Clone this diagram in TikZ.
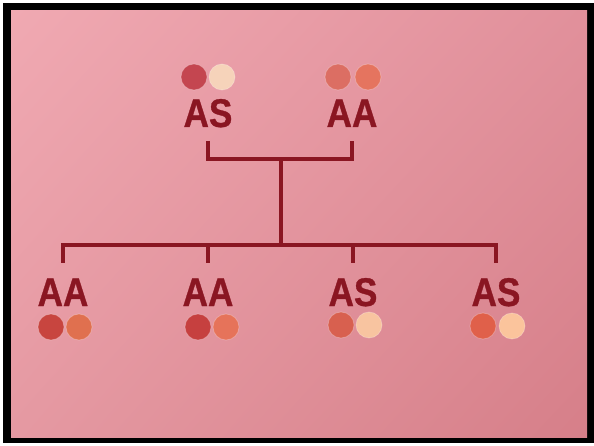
\documentclass[tikz,border=0pt]{standalone}
\usepackage{fontspec}
\usetikzlibrary{shadings}
\newfontfamily\lblfont[FakeStretch=0.88, FakeBold=0.8]{Liberation Sans}
\definecolor{ink}{HTML}{8A1622}
\definecolor{bgTL}{HTML}{F0A9B2}
\definecolor{bgTR}{HTML}{E1909B}
\definecolor{bgBL}{HTML}{E599A2}
\definecolor{bgBR}{HTML}{D67F89}
% blood-cell swatches
\definecolor{sDarkA}{HTML}{C44650}
\definecolor{sPaleA}{HTML}{F6D3BA}
\definecolor{sCoralA}{HTML}{DC6E63}
\definecolor{sCoralB}{HTML}{E5745F}
\definecolor{sDarkB}{HTML}{C8453F}
\definecolor{sCoralC}{HTML}{E0704F}
\definecolor{sDarkC}{HTML}{C6403F}
\definecolor{sCoralD}{HTML}{E6735A}
\definecolor{sMidA}{HTML}{D8604F}
\definecolor{sPaleB}{HTML}{F8C4A0}
\definecolor{sMidB}{HTML}{E0604A}
\definecolor{sPaleC}{HTML}{FBC49C}
\tikzset{
  geno/.style={inner sep=0pt, outer xsep=0pt, outer ysep=14pt,
    text height=29pt, text depth=0pt, text=ink,
    font=\lblfont\bfseries\fontsize{40}{40}\selectfont},
  cell/.style={circle, minimum size=26pt, inner sep=0pt, fill=#1,
    draw=white, draw opacity=0.25, line width=0.8pt},
  link/.style={draw=ink, line width=3.2pt}
}
\begin{document}
\begin{tikzpicture}[x=1pt, y=-1pt]
  \useasboundingbox (0,0) rectangle (594,446);
  % slide frame and pink card
  \fill[white] (0,0) rectangle (594,446);
  \fill[black] (3,3) rectangle (594,443);
  \shade[upper left=bgTL, upper right=bgTR, lower left=bgBL, lower right=bgBR]
    (11,11) rectangle (587,437);

  % parents
  \node[geno] (pAS) at (208,112.5) {AS};
  \node[geno] (pAA) at (352,112.5) {AA};
  \node[cell=sDarkA] (pAS1) at (194,77) {};
  \node[cell=sPaleA] (pAS2) at (222,77) {};
  \node[cell=sCoralA] (pAA1) at (338,77) {};
  \node[cell=sCoralB] (pAA2) at (368,77) {};

  % children
  \node[geno] (c1) at (63,291.5) {AA};
  \node[geno] (c2) at (208,291.5) {AA};
  \node[geno] (c3) at (353,291.5) {AS};
  \node[geno] (c4) at (496,291.5) {AS};
  \node[cell=sDarkB] (c1a) at (51,327) {};
  \node[cell=sCoralC] (c1b) at (79,327) {};
  \node[cell=sDarkC] (c2a) at (198,327) {};
  \node[cell=sCoralD] (c2b) at (226,327) {};
  \node[cell=sMidA] (c3a) at (341,325) {};
  \node[cell=sPaleB] (c3b) at (369,325) {};
  \node[cell=sMidB] (c4a) at (483,326) {};
  \node[cell=sPaleC] (c4b) at (512,326) {};

  % pedigree lines
  \coordinate (pj) at (281,159);
  \coordinate (cj) at (281,245);
  \draw[link] (pAS.south) |- (pj) -| (pAA.south);
  \draw[link] (pj) -- (cj);
  \draw[link] (c1.north) |- (cj) -| (c4.north);
  \draw[link] (c2.north) -- (c2.north |- cj);
  \draw[link] (c3.north) -- (c3.north |- cj);
\end{tikzpicture}
\end{document}
